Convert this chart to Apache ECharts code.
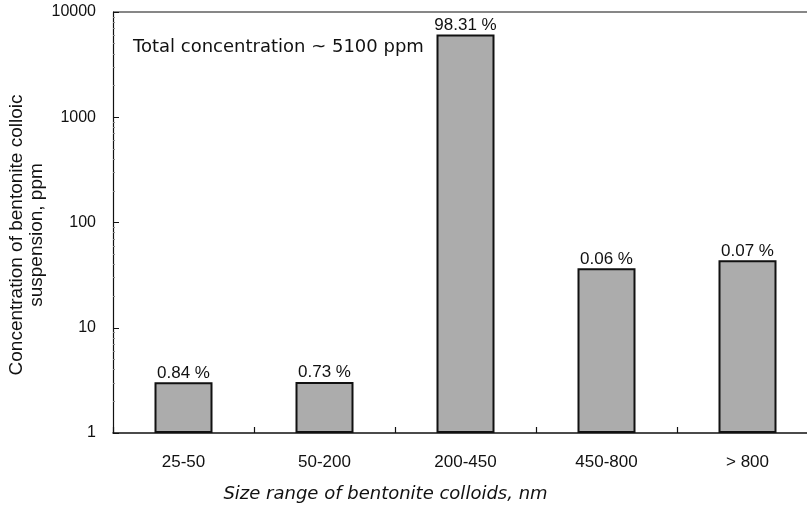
<!DOCTYPE html>
<html>
<head>
<meta charset="utf-8">
<script src="https://cdn.jsdelivr.net/npm/echarts@6/dist/echarts.min.js"></script>
<style>
  html, body { margin: 0; padding: 0; background: #fff; }
  #chart { width: 807px; height: 506px; }
</style>
</head>
<body>
<div id="chart"></div>
<script>
// size ranges (nm)
var categories = ['25-50', '50-200', '200-450', '450-800', '> 800'];
var concData = [3.03, 3.05, 6100, 36.7, 43.7];
// percent labels printed above bars
var pctLabels = ['0.84 %', '0.73 %', '98.31 %', '0.06 %', '0.07 %'];

var font = '"Liberation Sans", Arial, sans-serif';
var wideFont = '"DejaVu Sans", Verdana, sans-serif';
var chart = echarts.init(document.getElementById('chart'));
var option = {
    backgroundColor: '#fff',
    animation: false,
    grid: {
        left: 113,
        top: 12,
        width: 705,
        height: 421,
        outerBoundsMode: 'none',
        containLabel: false
    },
    graphic: [{
        type: 'text',
        left: 133,
        top: 38,
        style: {
            text: 'Total concentration ~ 5100 ppm',
            font: '18px ' + wideFont,
            fill: '#111'
        }
    }, {
        // y axis title, two lines, rotated
        type: 'text',
        x: 27,
        y: 235,
        rotation: Math.PI / 2,
        style: {
            text: 'Concentration of bentonite colloic\nsuspension, ppm',
            font: '19px ' + font,
            lineHeight: 20,
            align: 'center',
            verticalAlign: 'middle',
            fill: '#111'
        }
    }, {
        type: 'line',
        shape: { x1: 113, y1: 12, x2: 807, y2: 12 },
        style: { stroke: '#111', lineWidth: 1.2 }
    }],
    xAxis: {
        type: 'category',
        data: categories,
        axisLine: { lineStyle: { color: '#111', width: 1.5 } },
        axisTick: { show: true, inside: true, length: 6, lineStyle: { color: '#111', width: 1.2 } },
        axisLabel: { color: '#111', fontSize: 17, fontFamily: font, margin: 21 },
        name: 'Size range of bentonite colloids, nm',
        nameLocation: 'middle',
        nameGap: 52,
        nameTextStyle: {
            color: '#111', fontSize: 18, fontFamily: wideFont, fontStyle: 'italic',
            padding: [0, 160, 0, 0]
        }
    },
    yAxis: {
        type: 'log',
        logBase: 10,
        min: 1,
        max: 10000,
        axisLine: { show: true, lineStyle: { color: '#111', width: 1.2 } },
        axisTick: { show: true, inside: true, length: 6, lineStyle: { color: '#111' } },
        minorTick: { show: true, inside: true, splitNumber: 9, length: 2, lineStyle: { color: '#888' } },
        splitLine: { show: false },
        axisLabel: {
            color: '#111',
            fontSize: 16,
            fontFamily: font,
            margin: 17,
            formatter: function (v) { return String(Math.round(v)); }
        }
    },
    series: [{
        type: 'bar',
        data: concData,
        barWidth: 58,
        itemStyle: {
            color: '#acacac',
            borderColor: '#111',
            borderWidth: 2
        },
        label: {
            show: true,
            position: 'top',
            distance: 1,
            color: '#111',
            fontSize: 17,
            fontFamily: font,
            formatter: function (p) { return pctLabels[p.dataIndex]; }
        }
    }]
};
chart.setOption(option);
</script>
</body>
</html>
